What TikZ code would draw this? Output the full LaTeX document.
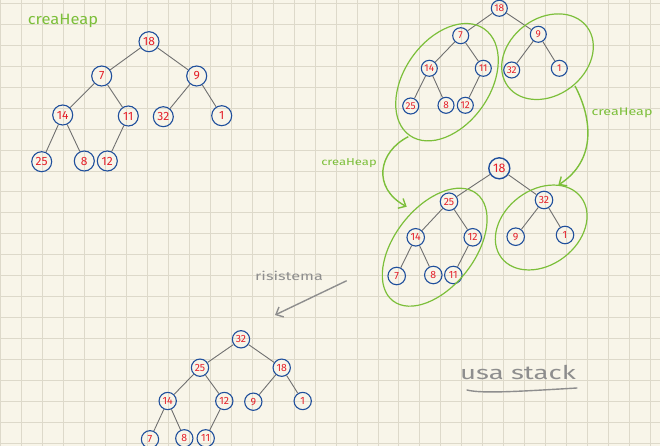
\documentclass[tikz,border=0pt]{standalone}
\usepackage{fontspec}
\setmainfont{Fira Sans}
\usetikzlibrary{arrows.meta}
\definecolor{paper}{HTML}{F8F5E9}
\definecolor{gridc}{HTML}{DDD9CA}
\definecolor{hgreen}{HTML}{7CBF3A}
\definecolor{hred}{HTML}{E4202A}
\definecolor{hblue}{HTML}{1F4F9C}
\definecolor{edgec}{HTML}{707070}
\definecolor{pencil}{HTML}{8E8E8E}
\begin{document}
\begin{tikzpicture}[x=1pt,y=-1pt,
  hn/.style={circle, draw=hblue, line width=1.1pt, text=hred, inner sep=0pt, minimum size=#1},
  ta/.style={hn=20pt, font=\fontsize{12}{12}\selectfont},
  tb/.style={hn=16pt, font=\fontsize{10}{10}\selectfont},
  tc/.style={hn=17.5pt, font=\fontsize{10.5}{10.5}\selectfont},
  tcroot/.style={hn=21pt, line width=1.4pt, font=\fontsize{12.5}{12.5}\selectfont},
  td/.style={hn=17.3pt, font=\fontsize{10.5}{10.5}\selectfont},
  edge/.style={draw=edgec, line width=0.9pt},
  gel/.style={draw=hgreen, line width=1.2pt},
  garrow/.style={draw=hgreen, line width=1.4pt, -{Straight Barb[length=6pt,width=11pt]}},
  parrow/.style={draw=pencil, line width=1.4pt, -{Straight Barb[length=6pt,width=11pt]}},
  gridline/.style={draw=gridc, line width=0.9pt},
  glabel/.style={text=hgreen, inner sep=0pt},
  plabel/.style={text=pencil, inner sep=0pt}]
\useasboundingbox (0,0) rectangle (660,446);
\clip (0,0) rectangle (660,446);
\fill[paper] (0,0) rectangle (660,446);
\foreach \i in {0,...,31} \draw[gridline] ({0.7+20.96*\i},0) -- ({0.7+20.96*\i},446);
\foreach \j in {0,...,21} \draw[gridline] (0,{3.3+20.96*\j}) -- (660,{3.3+20.96*\j});

% ---------- tree 1 ----------
\node[glabel, font=\fontsize{15}{15}\selectfont, xscale=1.1] (lab1) at (63,21) {creaHeap};
\node[ta] (a18) at (149,41.7) {18};
\node[ta] (a7) at (101.7,76) {7};
\node[ta] (a9) at (196.7,76) {9};
\node[ta] (a14) at (62.7,115) {14};
\node[ta] (a11) at (128.3,116) {11};
\node[ta] (a32) at (163.3,116.7) {32};
\node[ta] (a1) at (221.7,115.7) {1};
\node[ta] (a25) at (41.7,161.7) {25};
\node[ta] (a8) at (84.3,161) {8};
\node[ta] (a12) at (107.3,161) {12};
\foreach \u/\v in {a18/a7,a18/a9,a7/a14,a7/a11,a9/a32,a9/a1,a14/a25,a14/a8,a11/a12}
  \draw[edge] (\u) -- (\v);

% ---------- tree 2 ----------
\node[tb] (b18) at (499.3,8.3) {18};
\node[tb] (b7) at (460.7,35.7) {7};
\node[tb] (b9) at (538.3,34.3) {9};
\node[tb] (b14) at (429.3,68.3) {14};
\node[tb] (b11) at (483.3,68.3) {11};
\node[tb] (b32) at (511.7,70) {32};
\node[tb] (b1) at (559.3,68.3) {1};
\node[tb] (b25) at (410.7,106) {25};
\node[tb] (b8) at (446,105.3) {8};
\node[tb] (b12) at (465.3,105.3) {12};
\foreach \u/\v in {b18/b7,b18/b9,b7/b14,b7/b11,b9/b32,b9/b1,b14/b25,b14/b8,b11/b12}
  \draw[edge] (\u) -- (\v);
\draw[gel, rotate around={55:(447,82.2)}] (447,82.2) ellipse [x radius=65pt, y radius=43pt];
\draw[gel, rotate around={37:(547.5,56.7)}] (547.5,56.7) ellipse [x radius=49.5pt, y radius=38.5pt];

% ---------- arrows ----------
\coordinate (r1s) at (575,86);
\coordinate (r1e) at (558.3,185);
\coordinate (l1s) at (408.3,136.7);
\coordinate (l1e) at (406.7,206.7);
\draw[garrow] (r1s) .. controls (592,118) and (597,160) .. (r1e);
\draw[garrow] (l1s) .. controls (378,152) and (372,188) .. (l1e);
\node[glabel, font=\fontsize{11}{11}\selectfont, xscale=1.3] (lab2) at (622,113) {creaHeap};
\node[glabel, font=\fontsize{10}{10}\selectfont, xscale=1.3] (lab3) at (349,163) {creaHeap};

% ---------- tree 3 ----------
\node[tcroot] (c18) at (499.3,168.3) {18};
\node[tc] (c25) at (449,201.7) {25};
\node[tc] (c32) at (544,200) {32};
\node[tc] (c14) at (415.7,237.3) {14};
\node[tc] (c12) at (472.7,237.3) {12};
\node[tc] (c9) at (515.7,236.7) {9};
\node[tc] (c1) at (565,235) {1};
\node[tc] (c7) at (396.7,276) {7};
\node[tc] (c8) at (433.3,275) {8};
\node[tc] (c11) at (453.3,275) {11};
\foreach \u/\v in {c18/c25,c18/c32,c25/c14,c25/c12,c32/c9,c32/c1,c14/c7,c14/c8,c12/c11}
  \draw[edge] (\u) -- (\v);
\draw[gel, rotate around={52:(434.7,247.2)}] (434.7,247.2) ellipse [x radius=68pt, y radius=40pt];
\draw[gel, rotate around={37:(541.2,227.5)}] (541.2,227.5) ellipse [x radius=50pt, y radius=37.5pt];

% ---------- risistema ----------
\node[plabel, font=\fontsize{12}{12}\selectfont, xscale=1.35] (lab4) at (289,276) {risistema};
\coordinate (p1s) at (346.7,280.7);
\coordinate (p1e) at (275,315);
\draw[parrow] (p1s) -- (p1e);

% ---------- tree 4 ----------
\node[td] (d32) at (241,339.3) {32};
\node[td] (d25) at (200,367.7) {25};
\node[td] (d18) at (281.7,367.7) {18};
\node[td] (d14) at (167.7,401) {14};
\node[td] (d12) at (224.3,401) {12};
\node[td] (d9) at (253.3,401.7) {9};
\node[td] (d1) at (302.7,401) {1};
\node[td] (d7) at (150,439.3) {7};
\node[td] (d8) at (184.3,438.3) {8};
\node[td] (d11) at (205.7,438.3) {11};
\foreach \u/\v in {d32/d25,d32/d18,d25/d14,d25/d12,d18/d9,d18/d1,d14/d7,d14/d8,d12/d11}
  \draw[edge] (\u) -- (\v);

% ---------- usa stack ----------
\node[plabel, font=\fontsize{19}{19}\selectfont, xscale=1.45] (lab5) at (518,372) {usa stack};
\coordinate (u1s) at (467,390);
\coordinate (u1e) at (577,388);
\draw[draw=pencil, line width=1.4pt, line cap=round] (u1s) .. controls (482,394) and (525,391) .. (u1e);
\end{tikzpicture}
\end{document}
